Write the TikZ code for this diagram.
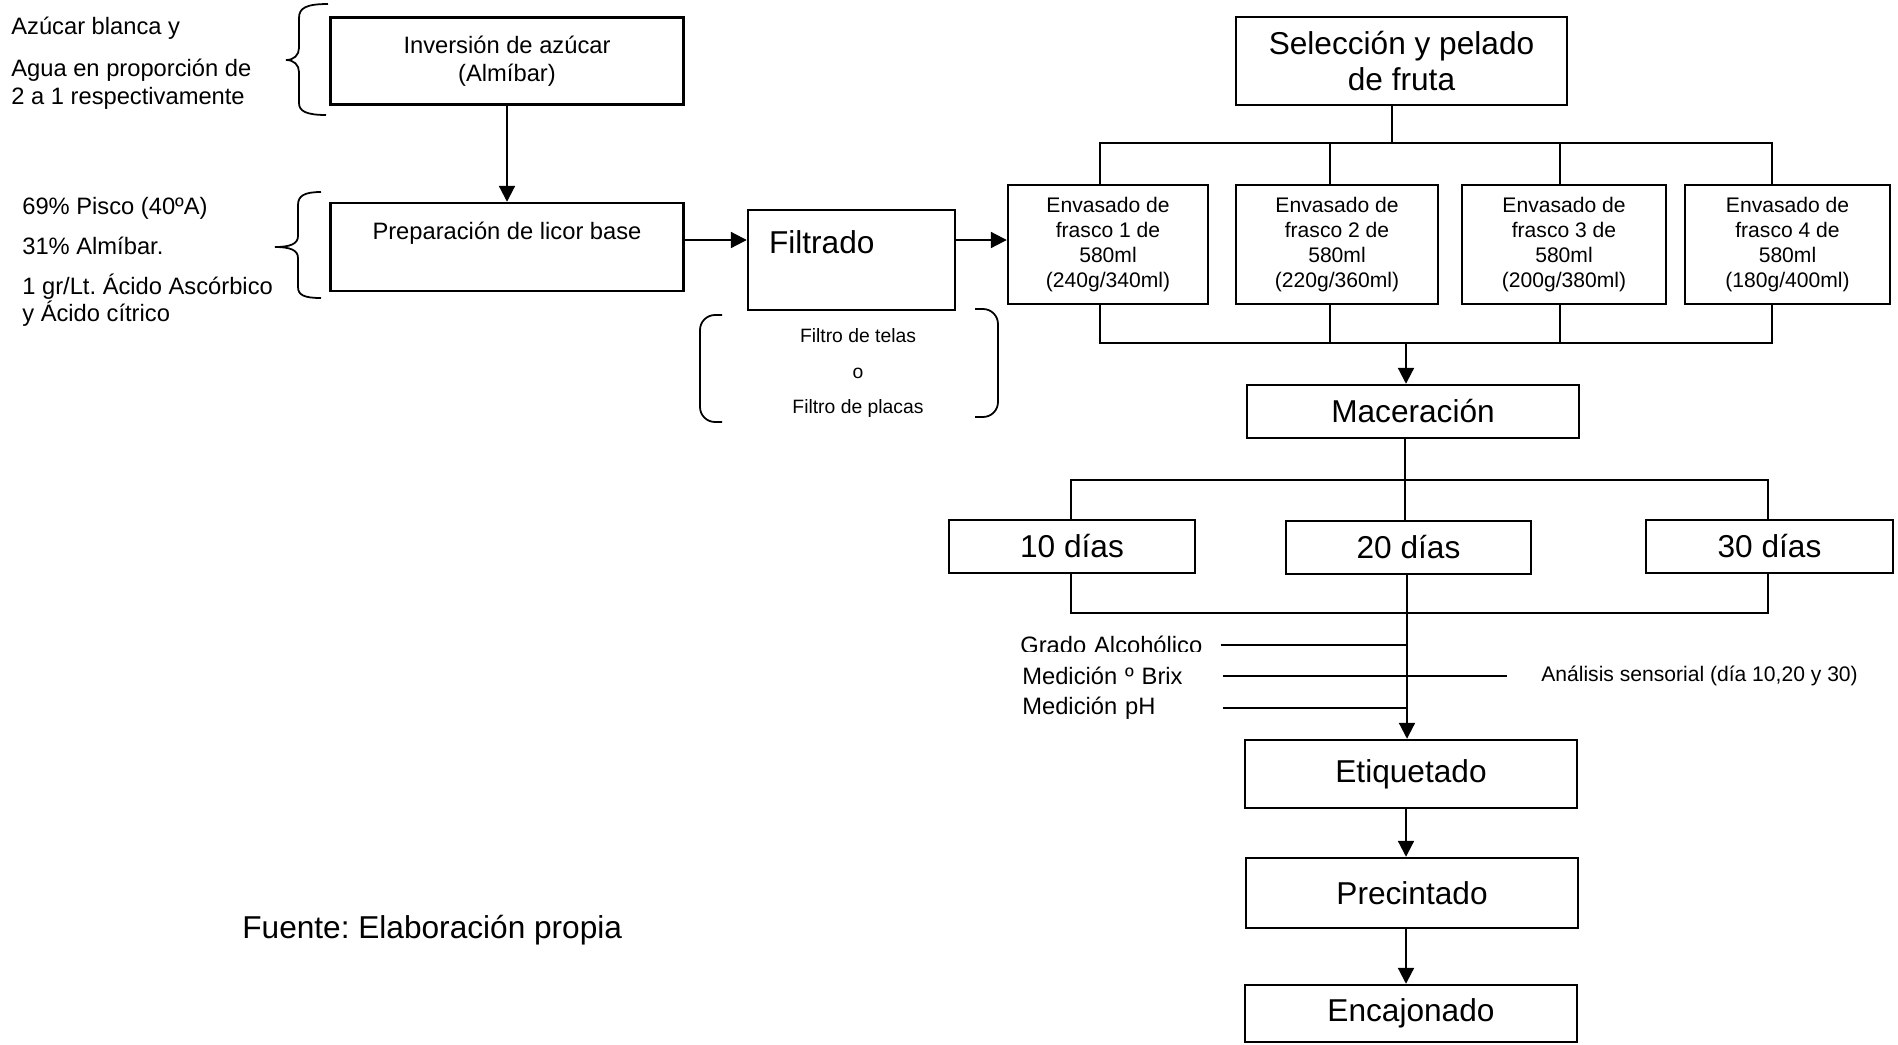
\documentclass[tikz,border=0pt]{standalone}
\usepackage{fontspec}
\setmainfont{Liberation Sans}
\usetikzlibrary{arrows.meta,positioning,calc}
\frenchspacing

\newcommand{\fbig}{\fontsize{18}{21}\selectfont}
\newcommand{\fnote}{\fontsize{13.5}{15.9}\selectfont}
\newcommand{\fjar}{\fontsize{12}{14.2}\selectfont}
\newcommand{\ffilt}{\fontsize{11}{20}\selectfont}

\begin{document}
\begin{tikzpicture}[x=0.02cm, y=-0.02cm,
  box/.style={draw, line width=1.4pt, inner sep=0pt, align=center},
  jar/.style={box, minimum height=2.38cm, font=\fjar},
  days/.style={box, minimum height=1.06cm, font=\fbig},
  meas/.style={anchor=west, inner sep=0pt, text width=4cm, align=left, font=\fnote},
  arr/.style={-{Triangle[length=9pt,width=9pt]}, line width=1.2pt},
  link/.style={line width=1.2pt},
  thinln/.style={line width=0.9pt},
  brc/.style={line width=1pt}]
  \useasboundingbox (0,0) rectangle (1898,1045);

  % syrup and base liquor
  \node[anchor=west, inner sep=0pt, align=left, font=\fnote] (syr) at (11,63)
       {Azúcar blanca y\\[7.9pt]Agua en proporción de\\2 a 1 respectivamente};
  \node[box, minimum width=7.06cm, minimum height=1.74cm, font=\fnote] (inv) at (507,61)
       {Inversión de azúcar\\(Almíbar)};
  \draw[brc] (328,4) .. controls (306,4) and (299,8) .. (299,18) -- (299,48)
       .. controls (299,55) and (294,60) .. (286,60) .. controls (294,60) and (299,65) .. (299,72)
       -- (299,103) .. controls (299,111) and (306,115) .. (326,115);

  \node[anchor=west, inner sep=0pt, align=left, font=\fnote] (mix) at (22,262)
       {69\% Pisco (40ºA)\\[6.8pt]31\% Almíbar.\\[6.8pt]1 gr/Lt. Ácido Ascórbico\\y Ácido cítrico};
  \node[box, minimum width=7.06cm, minimum height=1.76cm, font=\fnote] (prep) at (507,247)
       {Preparación de licor base\\[3pt]~};
  \draw[brc] (321,192) .. controls (304,192) and (298,196) .. (298,205) -- (298,236)
       .. controls (298,244) and (290,247) .. (275,247) .. controls (290,247) and (298,250) .. (298,258)
       -- (298,287) .. controls (298,295) and (304,298) .. (321,298);
  \draw[arr] (inv.south) -- (prep.north);

  % filtering
  \node[box, minimum width=4.14cm, minimum height=2cm, text width=3.3cm, align=left, font=\fbig] (filt) at (851.5,260)
       {Filtrado\\~};
  \node[align=center, font=\ffilt] (ftype) at (858,373) {Filtro de telas\\o\\Filtro de placas};
  \draw[brc, rounded corners=0.3cm] (722,315) -- (700,315) -- (700,422) -- (722,422);
  \draw[brc, rounded corners=0.3cm] (975,309) -- (998,309) -- (998,417) -- (975,417);

  % fruit and jars
  \node[box, minimum width=6.62cm, minimum height=1.76cm, font=\fbig] (sel) at (1401.5,61)
       {Selección y pelado\\de fruta};
  \node[jar, minimum width=4cm] (env1) at (1108,244.5) {Envasado de\\frasco 1 de\\580ml\\(240g/340ml)};
  \node[jar, minimum width=4.04cm] (env2) at (1337,244.5) {Envasado de\\frasco 2 de\\580ml\\(220g/360ml)};
  \node[jar, minimum width=4.08cm] (env3) at (1564,244.5) {Envasado de\\frasco 3 de\\580ml\\(200g/380ml)};
  \node[jar, minimum width=4.1cm] (env4) at (1787.5,244.5) {Envasado de\\frasco 4 de\\580ml\\(180g/400ml)};

  \coordinate (flow) at (0,240);
  \draw[arr] (prep.east |- flow) -- (filt.west |- flow);
  \draw[arr] (filt.east |- flow) -- (env1.west |- flow);

  \coordinate (s0) at (1392,143);
  \coordinate (s1) at (1100,143);
  \coordinate (s2) at (1330,143);
  \coordinate (s3) at (1560,143);
  \coordinate (s4) at (1772,143);
  \draw[link] (sel.south -| s0) -- (s0);
  \draw[link] (s1 |- env1.north) -- (s1) -- (s4) -- (s4 |- env4.north);
  \draw[thinln] (s2) -- (s2 |- env2.north);
  \draw[thinln] (s3) -- (s3 |- env3.north);

  % maceration
  \node[box, minimum width=6.64cm, minimum height=1.06cm, font=\fbig] (mac) at (1413,411.5) {Maceración};
  \coordinate (j0) at (1406,343);
  \coordinate (j1) at (1100,343);
  \coordinate (j2) at (1330,343);
  \coordinate (j3) at (1560,343);
  \coordinate (j4) at (1772,343);
  \draw[link] (j1 |- env1.south) -- (j1) -- (j4) -- (j4 |- env4.south);
  \draw[thinln] (j2 |- env2.south) -- (j2);
  \draw[thinln] (j3 |- env3.south) -- (j3);
  \draw[arr] (j0) -- (j0 |- mac.north);

  \node[days, minimum width=4.92cm] (d10) at (1072,546.5) {10 días};
  \node[days, minimum width=4.9cm] (d20) at (1408.5,547.5) {20 días};
  \node[days, minimum width=4.94cm] (d30) at (1769.5,546.5) {30 días};

  \coordinate (m0) at (1405,480);
  \coordinate (m1) at (1071,480);
  \coordinate (m3) at (1768,480);
  \draw[thinln] (mac.south -| m0) -- (m0) -- (m0 |- d20.north);
  \draw[link] (m1 |- d10.north) -- (m1) -- (m3) -- (m3 |- d30.north);

  \coordinate (n0) at (1407,613);
  \coordinate (n1) at (1071,613);
  \coordinate (n3) at (1768,613);
  \draw[link] (n1 |- d10.south) -- (n1) -- (n3) -- (n3 |- d30.south);

  % controls
  \begin{scope}
    \clip (1000,600) rectangle (1230,651);
    \node[meas] (gra) at (1020,645) {Grado Alcohólico};
  \end{scope}
  \node[meas] (brx) at (1022,676) {Medición º Brix};
  \node[meas] (phm) at (1022,708) {Medición pH};
  \node[anchor=west, inner sep=0pt, font=\fjar] (ana) at (1541,676) {Análisis sensorial (día 10,20 y 30)};
  \draw[link] (gra.east) -- (gra.east -| n0);
  \draw[link, shorten >=0.68cm] (brx.east) -- (ana.west);
  \draw[link] (phm.east) -- (phm.east -| n0);

  % packing
  \node[box, minimum width=6.64cm, minimum height=1.36cm, font=\fbig] (eti) at (1411,774) {Etiquetado};
  \node[box, minimum width=6.64cm, minimum height=1.4cm, font=\fbig] (pre) at (1412,893) {Precintado};
  \node[box, minimum width=6.64cm, minimum height=1.14cm, font=\fbig] (enc) at (1411,1013.5) {Encajonado};
  \draw[arr] (d20.south -| n0) -- (eti.north -| n0);
  \draw[arr] (eti.south -| j0) -- (pre.north -| j0);
  \draw[arr] (pre.south -| j0) -- (enc.north -| j0);

  \node[anchor=west, inner sep=0pt, font=\fbig] (src) at (242,930) {Fuente: Elaboración propia};
\end{tikzpicture}
\end{document}
